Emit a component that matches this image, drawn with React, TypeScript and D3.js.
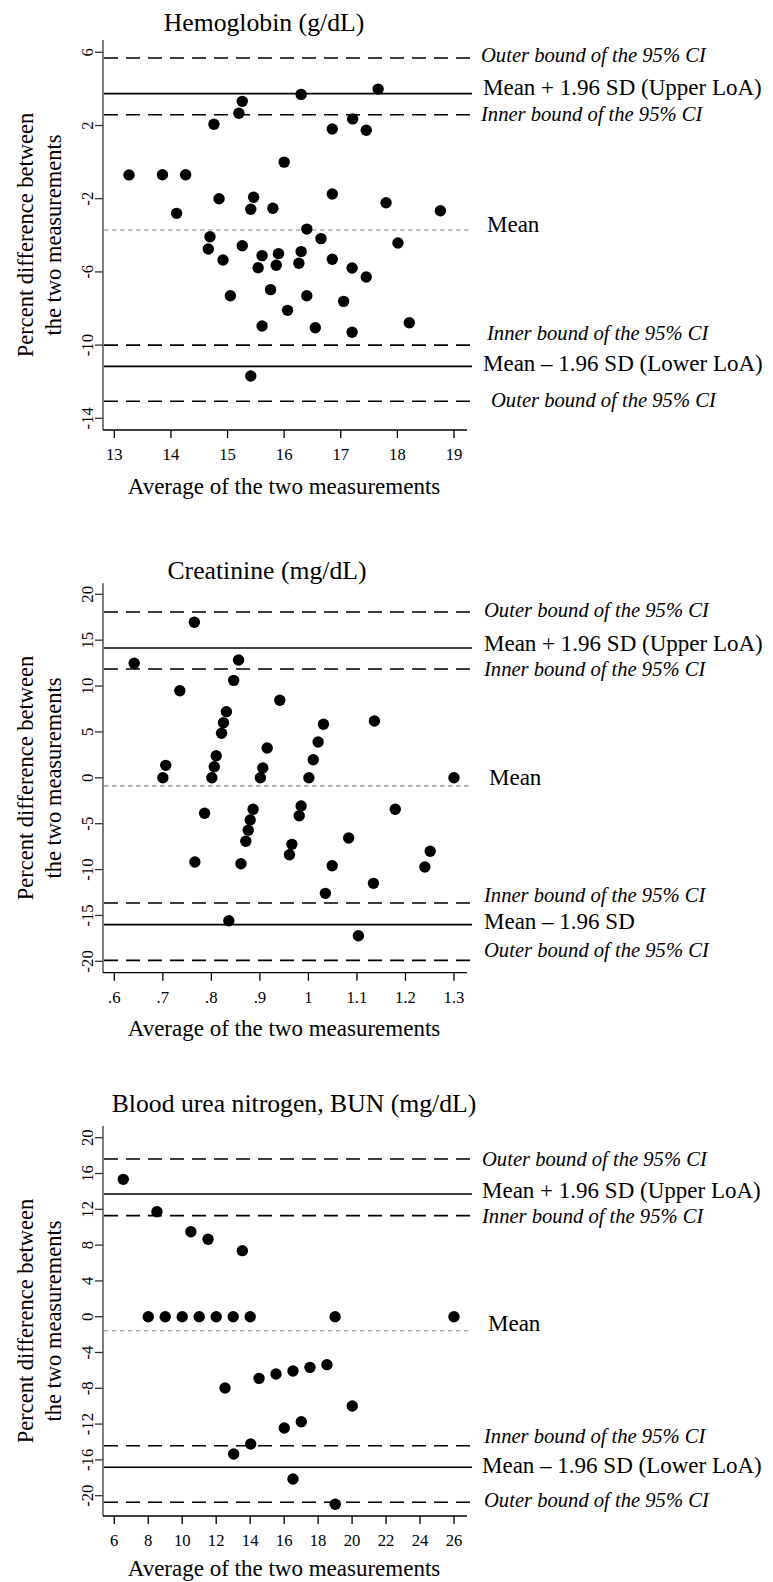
import React from 'react'
import * as d3 from 'd3'

const FONT = '"Liberation Serif", "Times New Roman", serif'

// Hemoglobin (g/dL)
const hbAvg = [13.26, 13.85, 14.26, 14.76, 15.2, 15.26, 16.3, 17.66, 16.85, 17.21, 17.45, 16.0,
  14.1, 14.85, 15.46, 15.41, 15.8, 16.85, 17.8, 18.76, 16.4, 14.69, 16.65, 18.01, 14.66, 15.26,
  14.92, 15.61, 15.9, 16.3, 15.54, 15.86, 16.26, 16.85, 17.2, 17.45, 15.05, 15.76, 16.4, 17.05,
  16.06, 15.61, 16.55, 17.2, 18.21, 15.41]
const hbDiff = [-0.7, -0.69, -0.69, 2.07, 2.67, 3.32, 3.7, 3.99, 1.81, 2.36, 1.74, 0.0,
  -2.8, -2.0, -1.92, -2.58, -2.52, -1.74, -2.22, -2.66, -3.66, -4.08, -4.18, -4.42, -4.75, -4.57,
  -5.35, -5.11, -5.0, -4.89, -5.77, -5.64, -5.53, -5.31, -5.79, -6.28, -7.3, -6.97, -7.3, -7.61,
  -8.1, -8.96, -9.05, -9.3, -8.78, -11.69]
const hbLines = [5.69, 3.74, 2.59, -3.71, -10.0, -11.16, -13.07]
const hbXTicks = [13, 14, 15, 16, 17, 18, 19]
const hbYTicks = [6, 2, -2, -6, -10, -14]

// Creatinine (mg/dL)
const crAvg = [0.641, 0.765, 0.735, 0.856, 0.846, 0.831, 0.825, 0.821, 0.81, 0.806, 0.801, 0.706,
  0.7, 0.941, 0.915, 0.906, 0.901, 1.031, 1.02, 1.01, 1.001, 1.136, 1.3, 0.786, 0.766, 0.861,
  0.886, 0.88, 0.876, 0.871, 0.985, 0.981, 0.966, 0.961, 1.083, 1.049, 1.035, 1.103, 1.134,
  1.179, 1.24, 1.251, 0.836]
const crDiff = [12.48, 16.95, 9.49, 12.84, 10.62, 7.21, 6.01, 4.85, 2.41, 1.21, 0, 1.36,
  0, 8.45, 3.25, 1.07, 0, 5.83, 3.9, 1.97, 0, 6.19, 0, -3.87, -9.18, -9.36,
  -3.43, -4.6, -5.72, -6.92, -3.07, -4.13, -7.25, -8.38, -6.56, -9.58, -12.59, -17.21, -11.5,
  -3.43, -9.72, -8.01, -15.57]
const crLines = [18.07, 14.15, 11.86, -0.88, -13.64, -16.0, -19.9]
const crXTicks = [0.6, 0.7, 0.8, 0.9, 1.0, 1.1, 1.2, 1.3]
const crXLabels = ['.6', '.7', '.8', '.9', '1', '1.1', '1.2', '1.3']
const crYTicks = [20, 15, 10, 5, 0, -5, -10, -15, -20]

// Blood urea nitrogen, BUN (mg/dL)
const bunAvg = [6.53, 8.51, 10.51, 11.52, 13.54, 8, 9, 10, 11, 12, 13, 14, 19, 26,
  12.52, 14.52, 15.52, 16.52, 17.52, 18.52, 20.01, 16.01, 17.01, 14.03, 13.03, 16.52, 19.01]
const bunDiff = [15.35, 11.73, 9.5, 8.65, 7.38, 0, 0, 0, 0, 0, 0, 0, 0, 0,
  -7.97, -6.89, -6.4, -6.07, -5.66, -5.36, -9.98, -12.44, -11.73, -14.22, -15.34, -18.13, -20.96]
const bunLines = [17.62, 13.71, 11.29, -1.57, -14.42, -16.82, -20.73]
const bunXTicks = [6, 8, 10, 12, 14, 16, 18, 20, 22, 24, 26]
const bunYTicks = [20, 16, 12, 8, 4, 0, -4, -8, -12, -16, -20]

const lineKinds = ['outer', 'loa', 'inner', 'mean', 'inner', 'loa', 'outer']
const labelsLoA = ['Outer bound of the 95% CI', 'Mean + 1.96 SD (Upper LoA)', 'Inner bound of the 95% CI', 'Mean',
  'Inner bound of the 95% CI', 'Mean \u2013 1.96 SD (Lower LoA)', 'Outer bound of the 95% CI']
const labelsCr = ['Outer bound of the 95% CI', 'Mean + 1.96 SD (Upper LoA)', 'Inner bound of the 95% CI', 'Mean',
  'Inner bound of the 95% CI', 'Mean \u2013 1.96 SD', 'Outer bound of the 95% CI']

type PanelProps = {
  title: string
  titleX: number
  titleY: number
  avg: number[]
  diff: number[]
  lines: number[]
  labels: string[]
  labelX: number[]
  labelDy: number[]
  xTicks: number[]
  xLabels?: string[]
  yTicks: number[]
  xDomain: [number, number]
  yDomain: [number, number]
  top: number
  bottom: number
  xTitleDy?: number
}

const Panel = (p: PanelProps) => {
  const left = 103
  const x = d3.scaleLinear().domain(p.xDomain).range([left, 472])
  const y = d3.scaleLinear().domain(p.yDomain).range([p.bottom, p.top])
  const midY = (p.top + p.bottom) / 2

  return (
    <g>
      <text x={p.titleX} y={p.titleY} textAnchor="middle" fontSize={25.7}>{p.title}</text>

      {/* reference lines */}
      {p.lines.map((v, i) => {
        const k = lineKinds[i]
        return (
          <line key={'l' + i} x1={left + 1} x2={472} y1={y(v)} y2={y(v)}
            stroke={k === 'mean' ? '#8a8a8a' : '#000'}
            strokeWidth={k === 'mean' ? 1.2 : 1.6}
            strokeDasharray={k === 'outer' || k === 'inner' ? '14,8' : k === 'mean' ? '4.5,3.5' : undefined} />
        )
      })}
      {p.labels.map((t, i) => {
        const k = lineKinds[i]
        const it = k === 'outer' || k === 'inner'
        return (
          <text key={'t' + i} x={p.labelX[i]} y={y(p.lines[i]) + p.labelDy[i]} dominantBaseline="central"
            fontSize={it ? 20.6 : 23} fontStyle={it ? 'italic' : 'normal'}>{t}</text>
        )
      })}

      {/* points */}
      {p.avg.map((a, i) => (
        <circle key={'p' + i} cx={x(a)} cy={y(p.diff[i])} r={5.7} fill="#000" />
      ))}

      {/* y axis */}
      <line x1={left} x2={left} y1={p.top} y2={p.bottom} stroke="#707070" strokeWidth={1.8} />
      {p.yTicks.map(t => (
        <g key={'y' + t}>
          <line x1={left - 8} x2={left} y1={y(t)} y2={y(t)} stroke="#333" strokeWidth={1.3} />
          <text transform={`translate(92.5,${y(t)}) rotate(-90)`} textAnchor="middle" fontSize={16.7}>{t}</text>
        </g>
      ))}
      <text transform={`translate(33.3,${midY}) rotate(-90)`} textAnchor="middle" fontSize={22.5}>Percent difference between</text>
      <text transform={`translate(60.5,${midY}) rotate(-90)`} textAnchor="middle" fontSize={22.5}>the two measurements</text>

      {/* x axis */}
      <line x1={left} x2={467} y1={p.bottom} y2={p.bottom} stroke="#000" strokeWidth={1.3} />
      {p.xTicks.map((t, i) => (
        <g key={'x' + i}>
          <line x1={x(t)} x2={x(t)} y1={p.bottom} y2={p.bottom + 8} stroke="#000" strokeWidth={1.3} />
          <text x={x(t)} y={p.bottom + 30} textAnchor="middle" fontSize={16.7}>{p.xLabels ? p.xLabels[i] : t}</text>
        </g>
      ))}
      <text x={284} y={p.bottom + (p.xTitleDy ?? 63.5)} textAnchor="middle" fontSize={23}>Average of the two measurements</text>
    </g>
  )
}

export default function App() {
  return (
    <svg width={773} height={1582} style={{ position: 'absolute', left: 0, top: 0, display: 'block', background: '#fff' }}
      fontFamily={FONT}>
      <rect width={773} height={1582} fill="#fff" />
      <Panel title="Hemoglobin (g/dL)" titleX={264} titleY={31}
        avg={hbAvg} diff={hbDiff} lines={hbLines} labels={labelsLoA}
        labelX={[481, 483, 481, 487, 487, 483, 491]}
        labelDy={[-2.5, -6, -0.7, -5, -12, -3, -1.5]}
        xTicks={hbXTicks} yTicks={hbYTicks}
        xDomain={[12.8, 19.318]} yDomain={[-14.639, 6.672]} top={40} bottom={430} />
      <Panel title="Creatinine (mg/dL)" titleX={267} titleY={579}
        avg={crAvg} diff={crDiff} lines={crLines} labels={labelsCr}
        labelX={[484, 484, 484, 489, 484, 484, 484]}
        labelDy={[-2, -4, 0, -8, -8, -2.7, -10]}
        xTicks={crXTicks} xLabels={crXLabels} yTicks={crYTicks}
        xDomain={[0.5767, 1.3371]} yDomain={[-21.24, 21.2]} top={583.3} bottom={972.7} />
      <Panel title="Blood urea nitrogen, BUN (mg/dL)" titleX={294} titleY={1111.7}
        avg={bunAvg} diff={bunDiff} lines={bunLines} labels={labelsLoA}
        labelX={[482, 482, 482, 488, 484, 482, 484]}
        labelDy={[0, -3.4, 0.3, -7.7, -9.7, -1.3, -2.3]}
        xTicks={bunXTicks} yTicks={bunYTicks}
        xDomain={[5.335, 27.06]} yDomain={[-22.27, 21.31]} top={1126} bottom={1516} xTitleDy={59.5} />
    </svg>
  )
}
